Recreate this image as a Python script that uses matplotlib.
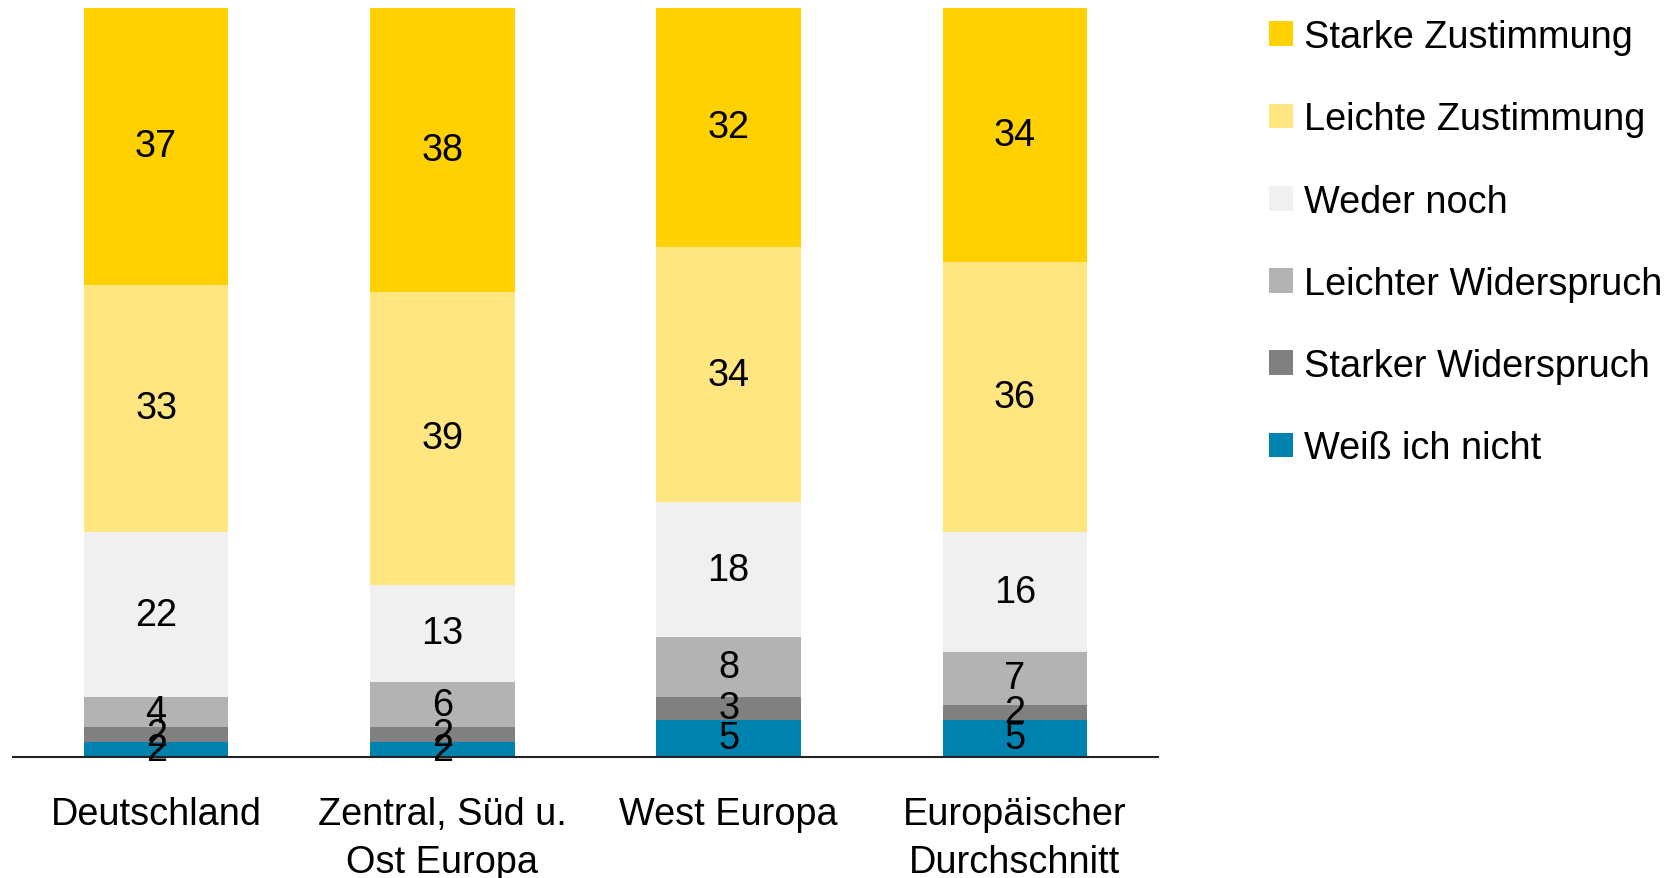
import matplotlib
matplotlib.use("Agg")
import matplotlib.pyplot as plt
import numpy as np

plt.rcParams['font.family'] = ['Liberation Sans', 'DejaVu Sans']

categories = ["Deutschland", "Zentral, Süd u.\nOst Europa", "West Europa", "Europäischer\nDurchschnitt"]
series_names = ["Weiß ich nicht", "Starker Widerspruch", "Leichter Widerspruch",
                "Weder noch", "Leichte Zustimmung", "Starke Zustimmung"]
weiss_nicht = [2, 2, 5, 5]
starker_widerspruch = [2, 2, 3, 2]
leichter_widerspruch = [4, 6, 8, 7]
weder_noch = [22, 13, 18, 16]
leichte_zustimmung = [33, 39, 34, 36]
starke_zustimmung = [37, 38, 32, 34]

series = [weiss_nicht, starker_widerspruch, leichter_widerspruch,
          weder_noch, leichte_zustimmung, starke_zustimmung]
colors = ["#0082AF", "#808080", "#B3B3B3", "#F0F0F0", "#FFE680", "#FFD100"]

FS = 27.3
fig = plt.figure(figsize=(16.73, 8.79), dpi=100)
ax = fig.add_axes([13/1673, 1-758/879, (1158-13)/1673, (758-8.5)/879])

x = np.arange(len(categories))
bottom = np.zeros(len(categories))
handles = []
for name, vals, col in zip(series_names, series, colors):
    vals = np.array(vals, dtype=float)
    bars = ax.bar(x, vals, width=0.505, bottom=bottom, color=col, label=name, zorder=2)
    handles.append(bars)
    for xi, b, v in zip(x, bottom, vals):
        ax.text(xi, b + v/2, f"{int(v)}", ha='center', va='center', fontsize=FS, color='black', zorder=4)
    bottom += vals

ax.set_xlim(-0.5, 3.5)
ax.set_ylim(0, 100)
ax.set_xticks(x)
ax.set_xticklabels(categories, fontsize=FS, linespacing=1.42)
ax.tick_params(axis='x', length=0, pad=28)
ax.set_yticks([])
for s in ['top', 'right', 'left']:
    ax.spines[s].set_visible(False)
ax.spines['bottom'].set_linewidth(1.5)
ax.spines['bottom'].set_color('#222222')
ax.spines['bottom'].set_zorder(3)

leg = fig.legend(handles[::-1], series_names[::-1], loc='upper left',
                 bbox_to_anchor=(1269/1673, 1-20/879), frameon=False,
                 fontsize=FS, handlelength=0.63, handleheight=0.63,
                 handletextpad=0.3, labelspacing=1.22, borderpad=0, borderaxespad=0)

fig.savefig("out.png", dpi=100)
